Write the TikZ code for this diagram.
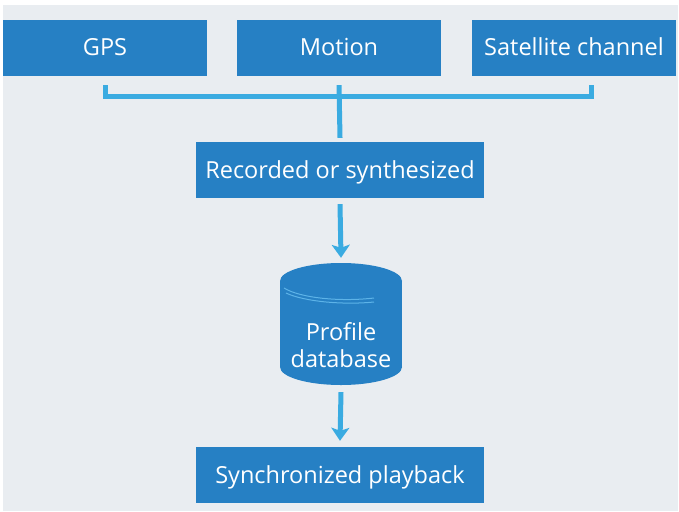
\documentclass[tikz,border=0pt]{standalone}
\usepackage{fontspec}
\setmainfont{Open Sans}
\usetikzlibrary{arrows.meta}
\definecolor{boxblue}{HTML}{2680C4}
\definecolor{linkblue}{HTML}{3AABE1}
\definecolor{shine}{HTML}{5DB3E8}
\definecolor{paper}{HTML}{E9EDF1}
\begin{document}
\begin{tikzpicture}[x=1pt, y=-1pt,
    box/.style={fill=boxblue, text=white, inner sep=0pt, minimum height=56pt,
      text height=16pt, text depth=0pt, font=\fontsize{23.5}{27}\selectfont},
    link/.style={draw=linkblue, line width=5pt},
    flow/.style={link, -{Stealth[length=13pt, width=18pt, inset=3pt]}}]
    \useasboundingbox (0,0) rectangle (679,511);
    \fill[paper] (3,5) rectangle (678,511);
    % sources
    \node[box, minimum width=204pt] (gps) at (105,48) {GPS};
    \node[box, minimum width=204pt] (motion) at (339,48) {Motion};
    \node[box, minimum width=204pt] (satellite) at (574,48) {Satellite channel};
    \node[box, minimum width=288pt] (recorded) at (340,170) {Recorded or synthesized};
    % database drum
    \fill[boxblue] (341,281) ellipse[x radius=61, y radius=18];
    \fill[boxblue] (280,281) rectangle (402,367);
    \fill[boxblue] (341,367) ellipse[x radius=61, y radius=18];
    \draw[shine, line width=1pt] (284,288) .. controls (300,298) and (340,302) .. (374,298);
    \draw[shine, line width=1pt] (286,293) .. controls (305,302) and (345,305) .. (374,302);
    \node[inner sep=0pt, minimum width=122pt, minimum height=122pt] (db) at (341,324) {};
    \node[text=white, align=center, font=\fontsize{23.5}{27}\selectfont] (dbtext) at (341,345) {Profile\\database};
    \node[box, minimum width=288pt] (playback) at (340,475) {Synchronized playback};
    % bracket
    \coordinate (bl) at (105,85);
    \coordinate (br) at (591,85);
    \draw[link] (bl) |- (br |- 0,96) -- (br);
    \draw[link] ([yshift=-9pt]motion.south) -- ([yshift=4pt]recorded.north);
    % flow
    \draw[flow] ([yshift=-6pt]recorded.south) -- ([yshift=5pt]db.north);
    \draw[flow] ([yshift=-7pt]db.south) -- ([yshift=6pt]playback.north);
\end{tikzpicture}
\end{document}
